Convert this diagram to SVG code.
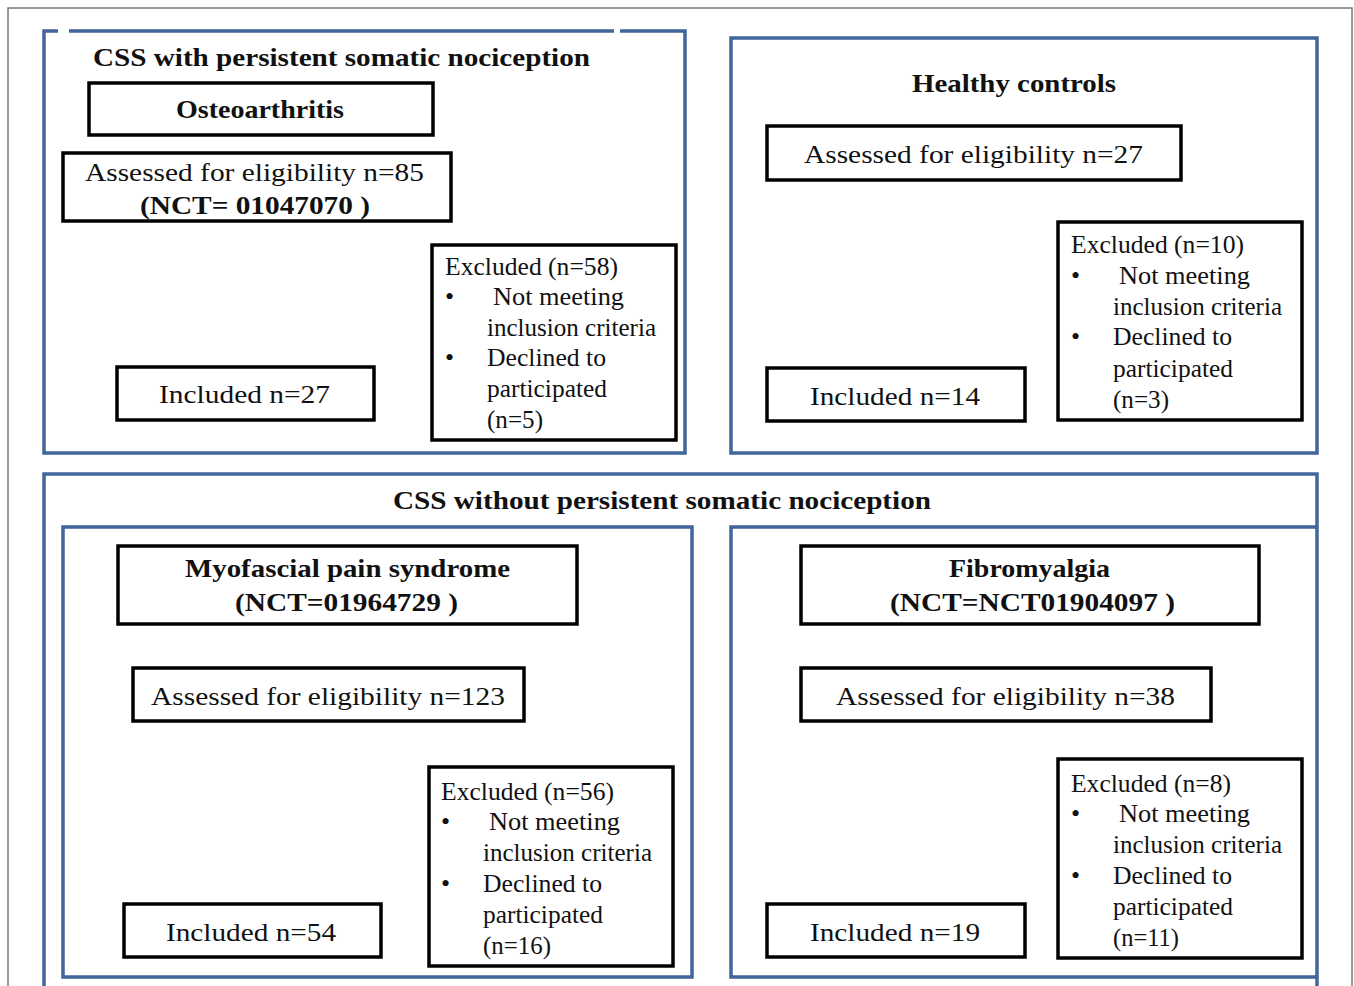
<svg xmlns="http://www.w3.org/2000/svg" width="1354" height="986" viewBox="0 0 1354 986">
<style>
.frame{fill:none;stroke:#7a7a7a;stroke-width:1.5}
.grp{fill:none;stroke:#41669a;stroke-width:3.5}
.box{fill:#fff;stroke:#000;stroke-width:3.5}
text{font-family:"Liberation Serif","Times New Roman",serif;font-size:26px;fill:#111}
.b{font-weight:bold}
</style>
<rect x="0" y="0" width="1354" height="986" fill="#fff"/>
<rect class="frame" x="8" y="8" width="1344" height="990"/>

<g id="group-css-with">
<path class="grp" d="M58,31 H44 V453 H685 V31 H620 M614,31 H69"/>
<text class="b" x="93" y="66" textLength="497" lengthAdjust="spacingAndGlyphs">CSS with persistent somatic nociception</text>
</g>
<g id="group-healthy">
<rect class="grp" x="731" y="38" width="586" height="415"/>
<text class="b" x="912" y="92" textLength="204" lengthAdjust="spacingAndGlyphs">Healthy controls</text>
</g>
<g id="group-css-without">
<path class="grp" d="M44,995 V474 H1317 V995"/>
<text class="b" x="393" y="509" textLength="538" lengthAdjust="spacingAndGlyphs">CSS without persistent somatic nociception</text>
</g>
<g id="group-mps">
<rect class="grp" x="63" y="527" width="629" height="450"/>
</g>
<g id="group-fm">
<path class="grp" d="M1317,527 H731 V977 H1317"/>
</g>

<g id="connectors"></g>

<!-- Osteoarthritis -->
<g id="oa-title">
<rect class="box" x="89" y="83" width="344" height="52"/>
<text class="b" x="176" y="118" textLength="168" lengthAdjust="spacingAndGlyphs">Osteoarthritis</text>
</g>
<g id="oa-assessed">
<rect class="box" x="63" y="153" width="388" height="68"/>
<text x="85" y="181" textLength="339" lengthAdjust="spacingAndGlyphs">Assessed for eligibility n=85</text>
<text class="b" x="140" y="214" textLength="230" lengthAdjust="spacingAndGlyphs">(NCT= 01047070 )</text>
</g>
<g id="oa-excluded">
<rect class="box" x="432" y="245" width="244" height="195"/>
<text x="445" y="275" textLength="173" lengthAdjust="spacingAndGlyphs">Excluded (n=58)</text>
<text x="445" y="305">•</text>
<text x="493" y="305" textLength="131" lengthAdjust="spacingAndGlyphs">Not meeting</text>
<text x="487" y="336" textLength="169" lengthAdjust="spacingAndGlyphs">inclusion criteria</text>
<text x="445" y="366">•</text>
<text x="487" y="366" textLength="119" lengthAdjust="spacingAndGlyphs">Declined to</text>
<text x="487" y="397" textLength="120" lengthAdjust="spacingAndGlyphs">participated</text>
<text x="487" y="428" textLength="56" lengthAdjust="spacingAndGlyphs">(n=5)</text>
</g>
<g id="oa-included">
<rect class="box" x="117" y="367" width="257" height="53"/>
<text x="159" y="403" textLength="171" lengthAdjust="spacingAndGlyphs">Included n=27</text>
</g>

<!-- Healthy controls -->
<g id="hc-assessed">
<rect class="box" x="767" y="126" width="414" height="54"/>
<text x="804" y="163" textLength="339" lengthAdjust="spacingAndGlyphs">Assessed for eligibility n=27</text>
</g>
<g id="hc-excluded">
<rect class="box" x="1058" y="222" width="244" height="198"/>
<text x="1071" y="253" textLength="173" lengthAdjust="spacingAndGlyphs">Excluded (n=10)</text>
<text x="1071" y="284">•</text>
<text x="1119" y="284" textLength="131" lengthAdjust="spacingAndGlyphs">Not meeting</text>
<text x="1113" y="315" textLength="169" lengthAdjust="spacingAndGlyphs">inclusion criteria</text>
<text x="1071" y="345">•</text>
<text x="1113" y="345" textLength="119" lengthAdjust="spacingAndGlyphs">Declined to</text>
<text x="1113" y="377" textLength="120" lengthAdjust="spacingAndGlyphs">participated</text>
<text x="1113" y="408" textLength="56" lengthAdjust="spacingAndGlyphs">(n=3)</text>
</g>
<g id="hc-included">
<rect class="box" x="767" y="368" width="258" height="53"/>
<text x="810" y="405" textLength="170" lengthAdjust="spacingAndGlyphs">Included n=14</text>
</g>

<!-- Myofascial pain syndrome -->
<g id="mps-title">
<rect class="box" x="118" y="546" width="459" height="78"/>
<text class="b" x="185" y="577" textLength="325" lengthAdjust="spacingAndGlyphs">Myofascial pain syndrome</text>
<text class="b" x="235" y="611" textLength="223" lengthAdjust="spacingAndGlyphs">(NCT=01964729 )</text>
</g>
<g id="mps-assessed">
<rect class="box" x="133" y="668" width="391" height="53"/>
<text x="151" y="705" textLength="354" lengthAdjust="spacingAndGlyphs">Assessed for eligibility n=123</text>
</g>
<g id="mps-excluded">
<rect class="box" x="429" y="767" width="244" height="199"/>
<text x="441" y="800" textLength="173" lengthAdjust="spacingAndGlyphs">Excluded (n=56)</text>
<text x="441" y="830">•</text>
<text x="489" y="830" textLength="131" lengthAdjust="spacingAndGlyphs">Not meeting</text>
<text x="483" y="861" textLength="169" lengthAdjust="spacingAndGlyphs">inclusion criteria</text>
<text x="441" y="892">•</text>
<text x="483" y="892" textLength="119" lengthAdjust="spacingAndGlyphs">Declined to</text>
<text x="483" y="923" textLength="120" lengthAdjust="spacingAndGlyphs">participated</text>
<text x="483" y="954" textLength="68" lengthAdjust="spacingAndGlyphs">(n=16)</text>
</g>
<g id="mps-included">
<rect class="box" x="124" y="904" width="257" height="53"/>
<text x="166" y="941" textLength="170" lengthAdjust="spacingAndGlyphs">Included n=54</text>
</g>

<!-- Fibromyalgia -->
<g id="fm-title">
<rect class="box" x="801" y="546" width="458" height="78"/>
<text class="b" x="949" y="577" textLength="161" lengthAdjust="spacingAndGlyphs">Fibromyalgia</text>
<text class="b" x="890" y="611" textLength="285" lengthAdjust="spacingAndGlyphs">(NCT=NCT01904097 )</text>
</g>
<g id="fm-assessed">
<rect class="box" x="801" y="668" width="410" height="53"/>
<text x="836" y="705" textLength="339" lengthAdjust="spacingAndGlyphs">Assessed for eligibility n=38</text>
</g>
<g id="fm-excluded">
<rect class="box" x="1058" y="759" width="244" height="199"/>
<text x="1071" y="792" textLength="160" lengthAdjust="spacingAndGlyphs">Excluded (n=8)</text>
<text x="1071" y="822">•</text>
<text x="1119" y="822" textLength="131" lengthAdjust="spacingAndGlyphs">Not meeting</text>
<text x="1113" y="853" textLength="169" lengthAdjust="spacingAndGlyphs">inclusion criteria</text>
<text x="1071" y="884">•</text>
<text x="1113" y="884" textLength="119" lengthAdjust="spacingAndGlyphs">Declined to</text>
<text x="1113" y="915" textLength="120" lengthAdjust="spacingAndGlyphs">participated</text>
<text x="1113" y="946" textLength="66" lengthAdjust="spacingAndGlyphs">(n=11)</text>
</g>
<g id="fm-included">
<rect class="box" x="767" y="904" width="258" height="53"/>
<text x="810" y="941" textLength="170" lengthAdjust="spacingAndGlyphs">Included n=19</text>
</g>
</svg>
